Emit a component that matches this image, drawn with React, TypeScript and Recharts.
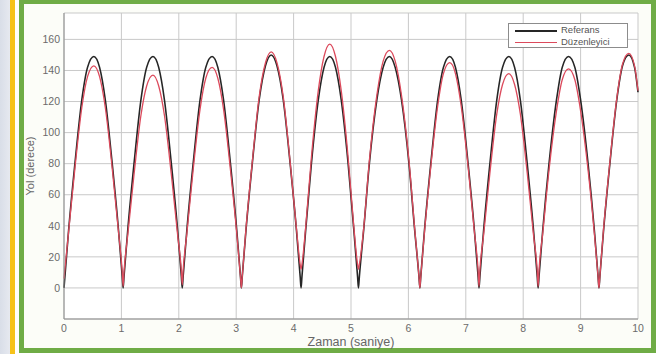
import React from 'react';
import { CartesianGrid, Line, LineChart, XAxis, YAxis } from 'recharts';

// --- dane (czas w sekundach, kąt w stopniach) ---
const zaman = [
  0, 0.08, 0.19, 0.31, 0.41, 0.52, 0.62, 0.72, 0.84, 0.95,
  1.015, 1.03, 1.045,
  1.11, 1.22, 1.34, 1.44, 1.55, 1.65, 1.75, 1.87, 1.98,
  2.045, 2.06, 2.075,
  2.14, 2.25, 2.37, 2.47, 2.58, 2.68, 2.78, 2.9, 3.01,
  3.075, 3.09, 3.105,
  3.17, 3.28, 3.4, 3.51, 3.61, 3.71, 3.82, 3.94, 4.05,
  4.115, 4.13, 4.145,
  4.21, 4.31, 4.43, 4.53, 4.63, 4.73, 4.83, 4.95, 5.05,
  5.115, 5.13, 5.145,
  5.22, 5.32, 5.45, 5.56, 5.67, 5.77, 5.88, 6.01, 6.11,
  6.185, 6.2, 6.215,
  6.28, 6.39, 6.51, 6.61, 6.72, 6.82, 6.92, 7.04, 7.15,
  7.215, 7.23, 7.245,
  7.31, 7.42, 7.54, 7.64, 7.75, 7.85, 7.95, 8.07, 8.18,
  8.245, 8.26, 8.275,
  8.34, 8.45, 8.58, 8.68, 8.79, 8.9, 9.0, 9.13, 9.24,
  9.305, 9.32, 9.335,
  9.4, 9.51, 9.63, 9.73, 9.84, 9.94, 10.0,
];

const referans = [
  0, 37, 80, 121, 142, 149, 142, 121, 80, 37,
  7, 0, 7,
  37, 80, 121, 142, 149, 142, 121, 80, 37,
  7, 0, 7,
  37, 80, 121, 142, 149, 142, 121, 80, 37,
  7, 0, 7,
  37, 80, 121, 143, 150, 143, 121, 80, 37,
  7, 0, 7,
  37, 80, 121, 142, 149, 142, 121, 80, 37,
  7, 0, 7,
  37, 80, 121, 142, 149, 142, 121, 80, 37,
  7, 0, 7,
  37, 80, 121, 142, 149, 142, 121, 80, 37,
  7, 0, 7,
  37, 80, 121, 142, 149, 142, 121, 80, 37,
  7, 0, 7,
  37, 80, 121, 142, 149, 142, 121, 80, 37,
  7, 0, 7,
  37, 80, 121, 143, 150, 142, 126,
];

const duzenleyici = [
  6, 36, 77, 116, 136, 143, 136, 116, 77, 36,
  10, 1, 10,
  34, 73, 111, 130, 137, 130, 111, 73, 34,
  11, 2, 11,
  35, 76, 115, 135, 142, 135, 115, 76, 35,
  7, 0, 7,
  38, 81, 123, 145, 152, 145, 123, 81, 38,
  15, 12, 15,
  39, 84, 127, 149, 157, 149, 127, 84, 39,
  15, 12, 15,
  38, 82, 124, 146, 153, 146, 124, 82, 38,
  7, 0, 7,
  36, 78, 117, 138, 145, 138, 117, 78, 36,
  11, 1, 11,
  34, 74, 112, 131, 138, 131, 112, 74, 34,
  11, 1, 11,
  35, 76, 114, 134, 141, 134, 114, 76, 35,
  7, 0, 7,
  38, 81, 122, 144, 151, 143, 127,
];

const xTicks = [0, 1, 2, 3, 4, 5, 6, 7, 8, 9, 10];
const yTicks = [0, 20, 40, 60, 80, 100, 120, 140, 160];

const data = zaman.map((t, i) => ({ t, ref: referans[i], duz: duzenleyici[i] }));

const FONT = '"Liberation Sans", Arial, sans-serif';
const BLACK = '#262626';
const RED = '#dc4a5c';
const tickStyle = { fill: '#6b6b6b', fontSize: 10.5, fontFamily: FONT };

export default function App() {
  return (
    <div style={{ position: 'fixed', left: 0, top: 0, width: 656, height: 354, overflow: 'hidden', background: '#ffffff' }}>
      {/* lewy pasek (żółta ramka) */}
      <div style={{ position: 'absolute', left: 0, top: 0, width: 10, height: 354, background: 'linear-gradient(90deg, #d9dee8, #e6e9f0)' }} />
      <div style={{ position: 'absolute', left: 10, top: 0, width: 5, height: 354, background: '#f6c21a' }} />
      {/* zielona ramka panelu */}
      <div style={{ position: 'absolute', left: 19, top: -1, width: 627, height: 344, border: '5px solid #6fac46', background: '#fcfdf8' }} />

      <div style={{ position: 'absolute', left: 0, top: 0 }}>
        <LineChart width={656} height={354} data={data} margin={{ top: 13, right: 18, bottom: 15, left: 24 }}>
          <CartesianGrid stroke="#c9c9c9" strokeWidth={1} fill="#ffffff" />
          <XAxis
            dataKey="t"
            type="number"
            domain={[0, 10]}
            ticks={xTicks}
            height={20}
            tickLine={false}
            tickSize={0}
            tickMargin={6}
            axisLine={{ stroke: '#8c8c8c' }}
            tick={tickStyle}
            label={{ value: 'Zaman (saniye)', position: 'bottom', offset: -2, style: { fill: '#666', fontSize: 12.5, fontFamily: FONT } }}
          />
          <XAxis xAxisId="top" orientation="top" dataKey="t" type="number" domain={[0, 10]} height={0} tick={false} tickLine={false} axisLine={{ stroke: '#8c8c8c' }} />
          <YAxis
            type="number"
            domain={[-20, 177]}
            ticks={yTicks}
            width={40}
            tickLine={false}
            tickSize={0}
            tickMargin={4}
            axisLine={{ stroke: '#8c8c8c' }}
            tick={tickStyle}
            label={{ value: 'Yol (derece)', angle: -90, position: 'insideLeft', offset: 6, style: { textAnchor: 'middle', fill: '#666', fontSize: 11, fontFamily: FONT } }}
          />
          <YAxis yAxisId="right" orientation="right" type="number" domain={[-20, 177]} width={0} tick={false} tickLine={false} axisLine={{ stroke: '#8c8c8c' }} />
          <Line type="monotone" dataKey="ref" stroke={BLACK} strokeWidth={1.6} dot={false} isAnimationActive={false} />
          <Line type="monotone" dataKey="duz" stroke={RED} strokeWidth={1.3} dot={false} isAnimationActive={false} />
        </LineChart>
      </div>

      {/* legenda */}
      <div style={{ position: 'absolute', left: 508, top: 23, width: 118, height: 23, border: '1px solid #8c8c8c', background: '#ffffff', fontFamily: FONT, fontSize: 9.5, color: '#555' }}>
        <div style={{ position: 'absolute', left: 6, top: 6, width: 42, height: 1.5, background: BLACK }} />
        <div style={{ position: 'absolute', left: 52, top: 0, lineHeight: '12px' }}>Referans</div>
        <div style={{ position: 'absolute', left: 6, top: 18, width: 42, height: 1.2, background: RED }} />
        <div style={{ position: 'absolute', left: 52, top: 12, lineHeight: '12px' }}>Düzenleyici</div>
      </div>
    </div>
  );
}
